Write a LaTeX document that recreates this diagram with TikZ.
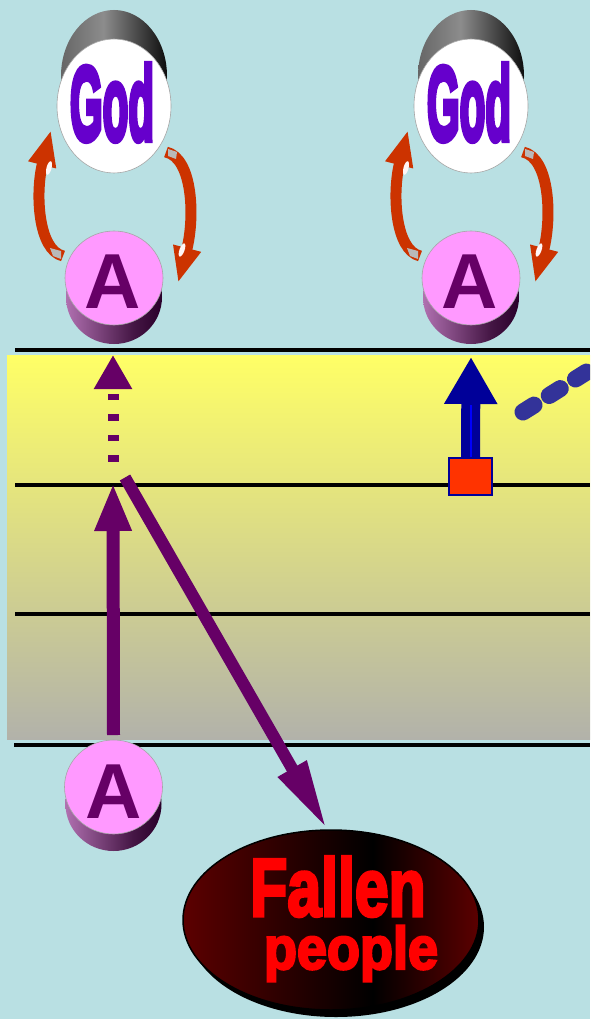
\documentclass[tikz,border=0pt]{standalone}
\usepackage{fontspec}
\setmainfont{Liberation Sans}
\newfontfamily\godfont[FakeBold=6]{Liberation Sans}
\newfontfamily\fallfont[FakeBold=4]{Liberation Sans}
\usetikzlibrary{arrows.meta,shapes.geometric}
\definecolor{bgblue}{HTML}{B9E0E3}
\definecolor{bandtop}{HTML}{FFFF66}
\definecolor{bandbot}{HTML}{B2B2AA}
\definecolor{godpurple}{HTML}{6600CC}
\definecolor{apurple}{HTML}{660066}
\definecolor{pinkA}{HTML}{FF99FF}
\definecolor{pinkside}{HTML}{B070B0}
\definecolor{darkside}{HTML}{2A002A}
\definecolor{arrowpurple}{HTML}{660066}
\definecolor{orangeA}{HTML}{CC3300}
\definecolor{navy}{HTML}{000099}
\definecolor{brightblue}{HTML}{0000FF}
\definecolor{redsq}{HTML}{FF3300}
\definecolor{dashblue}{HTML}{333399}
\definecolor{fallred}{HTML}{FF0000}
\definecolor{darkred}{HTML}{5C0000}
\pgfdeclarehorizontalshading{fallshade}{100bp}{color(0bp)=(darkred); color(25bp)=(darkred); color(57bp)=(black); color(75bp)=(darkred); color(100bp)=(darkred)}
\pgfdeclarehorizontalshading{godshade}{100bp}{color(0bp)=(black!60); color(25bp)=(black!60); color(45bp)=(black!45); color(75bp)=(black!95); color(100bp)=(black!95)}
\pgfdeclarehorizontalshading{discside}{100bp}{color(0bp)=(pinkside); color(25bp)=(pinkside); color(60bp)=(darkside!80!pinkside); color(75bp)=(darkside); color(100bp)=(darkside)}
\tikzset{
  rule/.style={line width=3.5pt, black},
  godtext/.style={inner sep=0pt, anchor=base, text=godpurple, font=\godfont\bfseries\fontsize{105pt}{105pt}\selectfont},
  atext/.style={inner sep=0pt, anchor=base, text=apurple, font=\bfseries\fontsize{78pt}{78pt}\selectfont},
  falltext/.style={inner sep=0pt, anchor=base, text=fallred},
  orangearrow/.style={draw=orangeA, line width=11pt, -{Triangle[length=36pt,width=26pt]}},
}
\begin{document}
\begin{tikzpicture}[x=1pt,y=-1pt]
\useasboundingbox (0,0) rectangle (590,1019);
\fill[bgblue] (0,0) rectangle (590,1019);
% layered band
\shade[top color=bandtop, bottom color=bandbot] (7,355) rectangle (590,739);
\draw[rule] (15,350) -- (590,350);
\draw[rule] (15,485) -- (590,485);
\draw[rule] (15,614) -- (590,614);
\draw[rule] (14,745) -- (590,745);

% God / A columns
\foreach \cx/\n in {114/1, 471/2}{
  \shade[shading=godshade] (\cx,76) ellipse [x radius=53pt, y radius=66pt];
  \draw[gray!70, line width=0.6pt, fill=white] (\cx,106) ellipse [x radius=57pt, y radius=67pt];
  \node[godtext] (god\n) at (\cx-2,140) {\scalebox{0.40}[1]{God}};
  \shade[shading=discside] (\cx,297) ellipse [x radius=48pt, y radius=47pt];
  \draw[gray!70, line width=0.6pt, fill=pinkA] (\cx,278) ellipse [x radius=49pt, y radius=47pt];
  \node[atext] (a\n) at (\cx-1,308) {A};
  \begin{scope}[xshift=\cx pt-114pt]
    \draw[orangearrow] (63,256) .. controls (38,250) and (35,193) .. (51,130);
    \draw[orangearrow] (166,152) .. controls (193,158) and (195,218) .. (178,283);
    \fill[gray!55] (50,248) -- (61,251) -- (61,259) -- (53,256) -- cycle;
    \fill[white!85!pink, rotate around={-15:(49,168)}] (49,168) ellipse [x radius=2.5pt, y radius=7pt];
    \fill[gray!55] (168,149) -- (177,152) -- (176,159) -- (168,156) -- cycle;
    \fill[white!85!pink, rotate around={-20:(182,250)}] (182,250) ellipse [x radius=2.5pt, y radius=7pt];
  \end{scope}
}

% bottom A
\shade[shading=discside] (113.5,804) ellipse [x radius=48pt, y radius=47pt];
\draw[gray!70, line width=0.6pt, fill=pinkA] (113.5,787) ellipse [x radius=49pt, y radius=47pt];
\node[atext] (a3) at (113.5,818) {A};

% Fallen people
\fill[black] (336,927) ellipse [x radius=148pt, y radius=90pt];
\node[ellipse, minimum width=296pt, minimum height=180pt, inner sep=0pt, draw=black, line width=1.5pt, shading=fallshade] (fallen) at (331,920) {};
\node[falltext, font=\fallfont\bfseries\fontsize{82pt}{82pt}\selectfont] (fallentxt) at (338,916) {\scalebox{0.74}[1]{Fallen}};
\node[falltext, font=\fallfont\bfseries\fontsize{60pt}{60pt}\selectfont] (peopletxt) at (351,969) {\scalebox{0.9}[1]{people}};

% purple arrows
\coordinate (junc) at (113,483);
\coordinate (dotstart) at (113,461.5);
\coordinate (dottip) at (113,355);
\coordinate (diagstart) at (125,477.5);
\draw[draw=arrowpurple, line width=13pt, -{Triangle[length=48pt,width=34pt]}] (a3.north |- 0,735) -- (junc);
\draw[draw=arrowpurple, line width=11pt, dash pattern=on 6.5pt off 14pt, -{Triangle[length=34pt,width=36pt]}] (dotstart) -- (dottip);
\draw[draw=arrowpurple, line width=12pt, -{Triangle[length=70pt,width=30pt]}] (diagstart) -- ([xshift=-4pt]fallen.north);

% blue arrow with red square
\node[draw=navy, fill=redsq, line width=1.5pt, minimum width=43pt, minimum height=37pt, inner sep=0pt] (sq) at (470.5,476.5) {};
\coordinate (bluetip) at (471,357);
\draw[draw=navy, line width=19pt, -{Triangle[length=47pt,width=50pt]}] (sq.north) -- (bluetip);
\draw[brightblue, line width=2pt] (sq.north) -- ++(0,-52);

% dashed blue line
\begin{scope}
  \clip (0,0) rectangle (590,1019);
  \coordinate (dashA) at (523,412);
  \coordinate (dashB) at (620,351);
  \draw[dashblue, line width=17pt, line cap=round, dash pattern=on 13pt off 18pt] (dashA) -- (dashB);
\end{scope}
\end{tikzpicture}
\end{document}
